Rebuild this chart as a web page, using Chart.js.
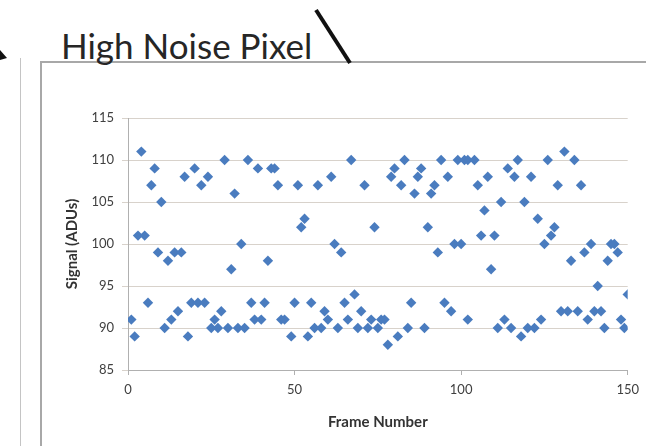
<!DOCTYPE html>
<html>
<head>
<meta charset="utf-8">
<script src="https://cdn.jsdelivr.net/npm/chart.js@4"></script>
<style>
  body { margin: 0; width: 646px; height: 446px; background: #fff; position: relative; overflow: hidden; }
  #title { position: absolute; left: 61px; top: 24px; font: 35px Lato, "Open Sans", sans-serif; color: #262626; line-height: normal; }
  #box { position: absolute; left: 40px; top: 61px; width: 620px; height: 400px; border-top: 2px solid #a8a8a8; border-left: 2px solid #a8a8a8; }
  #outer { position: absolute; left: 20px; top: 58px; width: 1px; height: 400px; background: #c4c4c4; }
  #deco { position: absolute; left: 0; top: 0; }
  canvas { position: absolute; left: 0; top: 0; }
</style>
</head>
<body>
<div id="outer"></div>
<div id="box"></div>
<div id="title">High Noise Pixel</div>
<svg id="deco" width="646" height="446">
  <line x1="316" y1="10" x2="350" y2="63" stroke="#111" stroke-width="4"/>
  <polygon points="0,50 7,58 0,60" fill="#111"/>
</svg>
<canvas id="chart" width="646" height="446"></canvas>
<script>
// frame number and signal
const frames = [
  1, 2, 3, 4, 5, 6, 7, 8, 9, 10,
  11, 12, 13, 14, 15, 16, 17, 18, 19, 20,
  21, 22, 23, 24, 25, 26, 27, 28, 29, 30,
  31, 32, 33, 34, 35, 36, 37, 38, 39, 40,
  41, 42, 43, 44, 45, 46, 47, 49, 50, 51,
  52, 53, 54, 55, 56, 57, 58, 59, 60, 61,
  62, 63, 64, 65, 66, 67, 68, 69, 70, 71,
  72, 73, 74, 75, 76, 77, 78, 79, 80, 81,
  82, 83, 84, 85, 86, 87, 88, 89, 90, 91,
  92, 93, 94, 95, 96, 97, 98, 99, 100, 101,
  102, 102, 104, 105, 106, 107, 108, 109, 110, 111,
  112, 113, 114, 115, 116, 117, 118, 119, 120, 121,
  122, 123, 124, 125, 126, 127, 128, 129, 130, 131,
  132, 133, 134, 135, 136, 137, 138, 139, 140, 141,
  142, 143, 144, 145, 146, 147, 148, 149, 150
];
const signal = [
  91, 89, 101, 111, 101, 93, 107, 109, 99, 105,
  90, 98, 91, 99, 92, 99, 108, 89, 93, 109,
  93, 107, 93, 108, 90, 91, 90, 92, 110, 90,
  97, 106, 90, 100, 90, 110, 93, 91, 109, 91,
  93, 98, 109, 109, 107, 91, 91, 89, 93, 107,
  102, 103, 89, 93, 90, 107, 90, 92, 91, 108,
  100, 90, 99, 93, 91, 110, 94, 90, 92, 107,
  90, 91, 102, 90, 91, 91, 88, 108, 109, 89,
  107, 110, 90, 93, 106, 108, 109, 90, 102, 106,
  107, 99, 110, 93, 108, 92, 100, 110, 100, 110,
  110, 91, 110, 107, 101, 104, 108, 97, 101, 90,
  105, 91, 109, 90, 108, 110, 89, 105, 90, 108,
  90, 103, 91, 100, 110, 101, 102, 107, 92, 111,
  92, 98, 110, 92, 107, 99, 91, 100, 92, 95,
  92, 90, 98, 100, 100, 99, 91, 90, 94
];
const yTicks = [85, 90, 95, 100, 105, 110, 115];
const xTicks = [0, 50, 100, 150];

const points = frames.map((f, i) => ({ x: f, y: signal[i] }));

const family = "Lato, 'Open Sans', sans-serif";
const tickFont = { family: family, size: 13 };
const titleFont = { family: family, size: 15, weight: "bold" };

new Chart(document.getElementById("chart"), {
  type: "scatter",
  data: {
    datasets: [
      {
        label: "Signal",
        data: points,
        pointStyle: "rectRot",
        pointRadius: 5.2,
        backgroundColor: "#4a7cbf",
        borderWidth: 0,
      },
    ],
  },
  options: {
    responsive: false,
    animation: false,
    layout: { padding: { left: 40, top: 118, right: 18, bottom: 15 } },
    plugins: { legend: { display: false }, tooltip: { enabled: false } },
    scales: {
      x: {
        type: "linear",
        min: xTicks[0],
        max: xTicks[xTicks.length - 1],
        afterBuildTicks: (s) => { s.ticks = xTicks.map((v) => ({ value: v })); },
        afterFit: (s) => { s.height = 61; },
        grid: { drawOnChartArea: false, color: "#b0b0b0", tickLength: 5 },
        border: { color: "#b0b0b0", width: 1 },
        ticks: { padding: 7, color: "#404040", font: tickFont },
        title: {
          display: true,
          text: "Frame Number",
          color: "#333",
          font: titleFont,
          padding: { top: 0, bottom: 0 },
        },
      },
      y: {
        min: yTicks[0],
        max: yTicks[yTicks.length - 1],
        afterBuildTicks: (s) => { s.ticks = yTicks.map((v) => ({ value: v })); },
        afterFit: (s) => { s.width = 88; },
        grid: { color: "#d8d2cb", tickLength: 6 },
        border: { color: "#b0b0b0", width: 1 },
        ticks: { padding: 8, color: "#404040", font: tickFont },
        title: {
          display: true,
          text: "Signal (ADUs)",
          color: "#333",
          font: titleFont,
          padding: { top: 23, bottom: 0 },
        },
      },
    },
  },
});
</script>
</body>
</html>
